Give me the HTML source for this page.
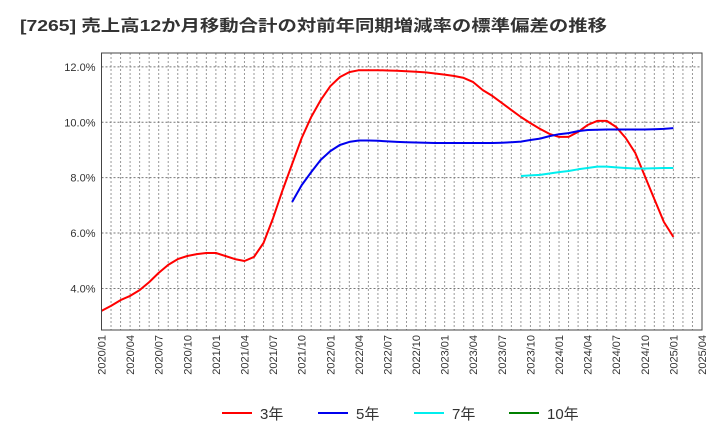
<!DOCTYPE html>
<html><head><meta charset="utf-8"><style>
body{margin:0;background:#fff;font-family:"Liberation Sans","Noto Sans CJK JP",sans-serif}
svg text{font-family:"Liberation Sans","Noto Sans CJK JP",sans-serif}
</style></head><body>
<svg id="c" width="720" height="440" xmlns="http://www.w3.org/2000/svg">
<text x="20" y="31" font-size="16" font-weight="bold" fill="#333" textLength="587" lengthAdjust="spacingAndGlyphs">[7265]  売上高12か月移動合計の対前年同期増減率の標準偏差の推移</text>
<g id="grid"></g><g id="series"></g><g id="axes"></g>
<rect x="101.5" y="53" width="600.5" height="277" fill="none" stroke="#444" stroke-width="1"/>
<g id="legend"></g>
</svg>
<script>
const xLabels=["2020/01","2020/04","2020/07","2020/10","2021/01","2021/04","2021/07","2021/10","2022/01","2022/04","2022/07","2022/10","2023/01","2023/04","2023/07","2023/10","2024/01","2024/04","2024/07","2024/10","2025/01","2025/04"];
const yTicks=[4,6,8,10,12];
const s3=[3.19,3.37,3.58,3.73,3.94,4.23,4.56,4.85,5.06,5.17,5.24,5.28,5.28,5.17,5.06,4.99,5.14,5.64,6.54,7.55,8.49,9.43,10.19,10.8,11.3,11.63,11.81,11.88,11.88,11.88,11.87,11.86,11.84,11.82,11.8,11.76,11.72,11.67,11.6,11.45,11.16,10.95,10.7,10.44,10.19,9.97,9.76,9.58,9.47,9.47,9.65,9.9,10.05,10.05,9.83,9.43,8.89,8.06,7.23,6.4,5.86];
const s5=[null,null,null,null,null,null,null,null,null,null,null,null,null,null,null,null,null,null,null,null,7.12,7.73,8.2,8.64,8.96,9.18,9.29,9.34,9.34,9.33,9.31,9.29,9.28,9.27,9.26,9.25,9.25,9.25,9.25,9.25,9.25,9.25,9.26,9.28,9.3,9.36,9.41,9.5,9.57,9.61,9.68,9.72,9.73,9.74,9.74,9.74,9.74,9.74,9.75,9.76,9.79];
const s7=[null,null,null,null,null,null,null,null,null,null,null,null,null,null,null,null,null,null,null,null,null,null,null,null,null,null,null,null,null,null,null,null,null,null,null,null,null,null,null,null,null,null,null,null,8.06,8.08,8.1,8.15,8.2,8.24,8.3,8.35,8.4,8.4,8.37,8.35,8.33,8.33,8.34,8.35,8.35];
const NS="http://www.w3.org/2000/svg";
const L=101.5,R=702,T=53,B=330,nM=63,yMin=2.5,yMax=12.5;
const X=m=>L+(R-L)*m/nM, Y=v=>B-(B-T)*(v-yMin)/(yMax-yMin);
function mk(t,a,p){const e=document.createElementNS(NS,t);for(const k in a)e.setAttribute(k,a[k]);p.appendChild(e);return e;}
const g=document.getElementById('grid'),ax=document.getElementById('axes'),se=document.getElementById('series'),lg=document.getElementById('legend');
for(let m=1;m<nM;m++){const l=mk('line',{x1:X(m),x2:X(m),y1:T,y2:B,stroke:'#999','stroke-dasharray':'2,2','stroke-width':1},g);

}
yTicks.forEach(v=>{const l=mk('line',{x1:L,x2:R,y1:Y(v),y2:Y(v),stroke:'#777','stroke-dasharray':'2,2','stroke-width':1},g);


const t=mk('text',{x:L-6,y:Y(v)+4,'text-anchor':'end','font-size':11,fill:'#333'},ax);t.textContent=v.toFixed(1)+'%';

});
xLabels.forEach((s,i)=>{const x=X(i*3);const t=mk('text',{x:0,y:0,transform:`translate(${x+4},335) rotate(-90)`,'text-anchor':'end','font-size':11,fill:'#333'},ax);t.textContent=s;

});
function draw(arr,col,name){let d='';arr.forEach((v,i)=>{if(v==null)return;d+=(d?'L':'M')+X(i).toFixed(1)+','+Y(v).toFixed(1);});
const p=mk('path',{d:d,fill:'none',stroke:col,'stroke-width':2,'stroke-linejoin':'round'},se);

}
draw(s3,'#ff0000','series-3yr');draw(s5,'#0000ee','series-5yr');draw(s7,'#00eeee','series-7yr');
[["3年","#ff0000",222],["5年","#0000ee",318],["7年","#00eeee",414],["10年","#008000",509]].forEach(([n,c,x])=>{
const l=mk('line',{x1:x,x2:x+30,y1:413,y2:413,stroke:c,'stroke-width':2},lg);


const t=mk('text',{x:x+38,y:419,'font-size':15,fill:'#333'},lg);t.textContent=n;

});
</script>
</body></html>
